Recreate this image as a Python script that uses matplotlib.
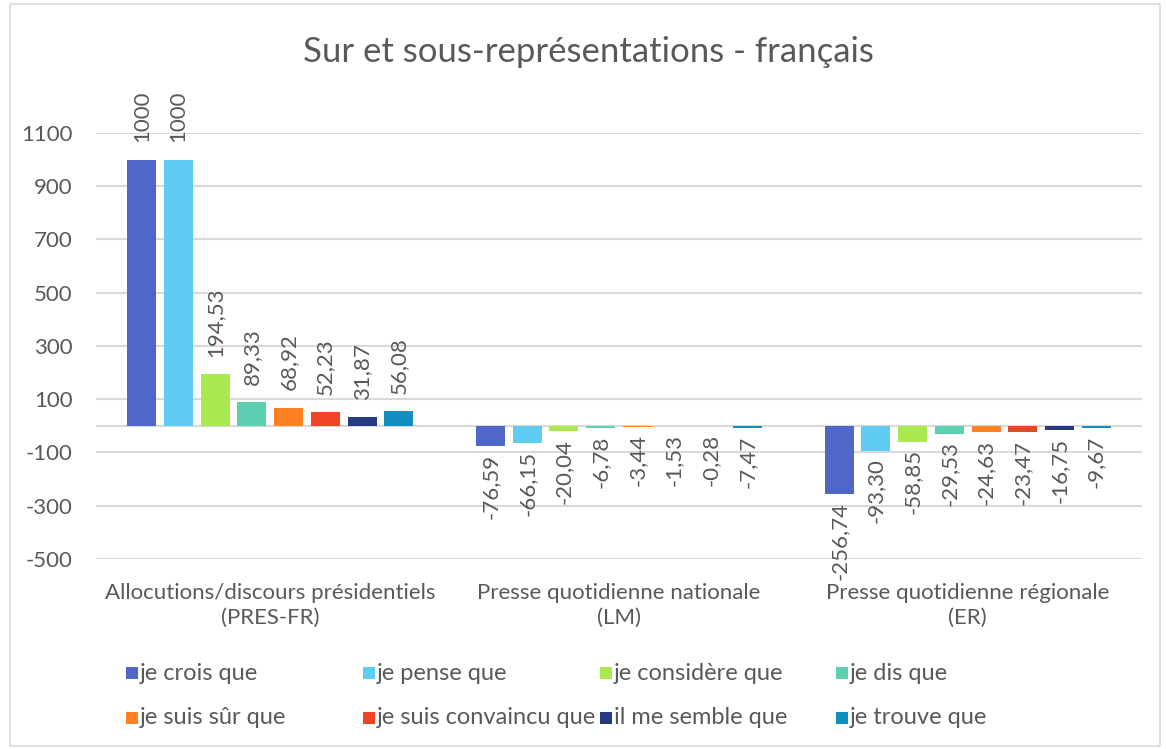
import matplotlib
matplotlib.use("Agg")
import matplotlib.pyplot as plt
from matplotlib.patches import Rectangle
import numpy as np

plt.rcParams['font.family'] = ['Lato', 'DejaVu Sans']

title = "Sur et sous-représentations - français"
categories = ["Allocutions/discours présidentiels\n(PRES-FR)",
              "Presse quotidienne nationale\n(LM)",
              "Presse quotidienne régionale\n(ER)"]
series_names = ["je crois que", "je pense que", "je considère que", "je dis que",
                "je suis sûr que", "je suis convaincu que", "il me semble que", "je trouve que"]
colors = ["#4F67C8", "#5FCDF2", "#A8E94F", "#5CCFB0",
          "#FF8123", "#F04427", "#253A7F", "#1190BF"]
# values per series: [PRES-FR, LM, ER]
je_crois = [1000, -76.59, -256.74]
je_pense = [1000, -66.15, -93.30]
je_considere = [194.53, -20.04, -58.85]
je_dis = [89.33, -6.78, -29.53]
je_suis_sur = [68.92, -3.44, -24.63]
je_suis_convaincu = [52.23, -1.53, -23.47]
il_me_semble = [31.87, -0.28, -16.75]
je_trouve = [56.08, -7.47, -9.67]
series_values = [je_crois, je_pense, je_considere, je_dis,
                 je_suis_sur, je_suis_convaincu, il_me_semble, je_trouve]
y_ticks = list(range(-500, 1101, 200))

W, H = 1166, 749
fig = plt.figure(figsize=(W / 100, H / 100), dpi=100)
ax = fig.add_axes([96 / W, 1 - 559 / H, (1142 - 96) / W, (559 - 133) / H])

text_color = "#595959"
grid_color = "#D9D9D9"
fs = 16

x = np.arange(len(categories))
stride = 0.1052
width = 0.0832
for i, (vals, col) in enumerate(zip(series_values, colors)):
    pos = x + (i - 3.5) * stride
    ax.bar(pos, vals, width=width, color=col, zorder=3)
    for px_, v in zip(pos, vals):
        lab = str(int(v)) if float(v).is_integer() else f"{v:.2f}".replace(".", ",")
        if v >= 0:
            ax.annotate(lab, (px_, v), xytext=(0, 12.5), textcoords="offset points",
                        rotation=90, ha="center", va="bottom", fontsize=fs,
                        color=text_color)
        else:
            ax.annotate(lab, (px_, v), xytext=(0, -5.5), textcoords="offset points",
                        rotation=90, ha="center", va="top", fontsize=fs,
                        color=text_color)

ax.set_ylim(-500, 1100)
ax.set_xlim(-0.5, 2.5)
ax.set_yticks(y_ticks)
ax.set_yticklabels([str(t) for t in y_ticks], fontsize=fs, color=text_color)
ax.set_xticks(x)
ax.set_xticklabels(categories, fontsize=16, color=text_color, linespacing=1.35)
ax.tick_params(axis="both", length=0)
ax.tick_params(axis="y", pad=17)
ax.tick_params(axis="x", pad=17)
ax.grid(axis="y", color=grid_color, linewidth=1.5, zorder=0)
ax.axhline(0, color=grid_color, linewidth=1.5, zorder=1)
for s in ax.spines.values():
    s.set_visible(False)

fig.text(588 / W, 1 - 52 / H, title, ha="center", va="center",
         fontsize=25, color=text_color)

# legend (manual grid like Excel)
col_x = [132, 369, 606, 842]
row_y = [673, 718]
msize = 12
for i, (name, col) in enumerate(zip(series_names, colors)):
    cx = col_x[i % 4]
    cy = row_y[i // 4]
    fig.patches.append(Rectangle(((cx - msize / 2) / W, 1 - (cy + msize / 2) / H),
                                 msize / W, msize / H, transform=fig.transFigure,
                                 facecolor=col, edgecolor="none"))
    fig.text((cx + msize / 2 + 2) / W, 1 - cy / H, name, ha="left", va="center",
             fontsize=17, color=text_color)

# chart border
fig.patches.append(Rectangle((10 / W, 3 / H), (W - 16) / W, (H - 7) / H,
                             transform=fig.transFigure, facecolor="none",
                             edgecolor="#D9D9D9", linewidth=1.2))

fig.savefig("out.png", dpi=100)
